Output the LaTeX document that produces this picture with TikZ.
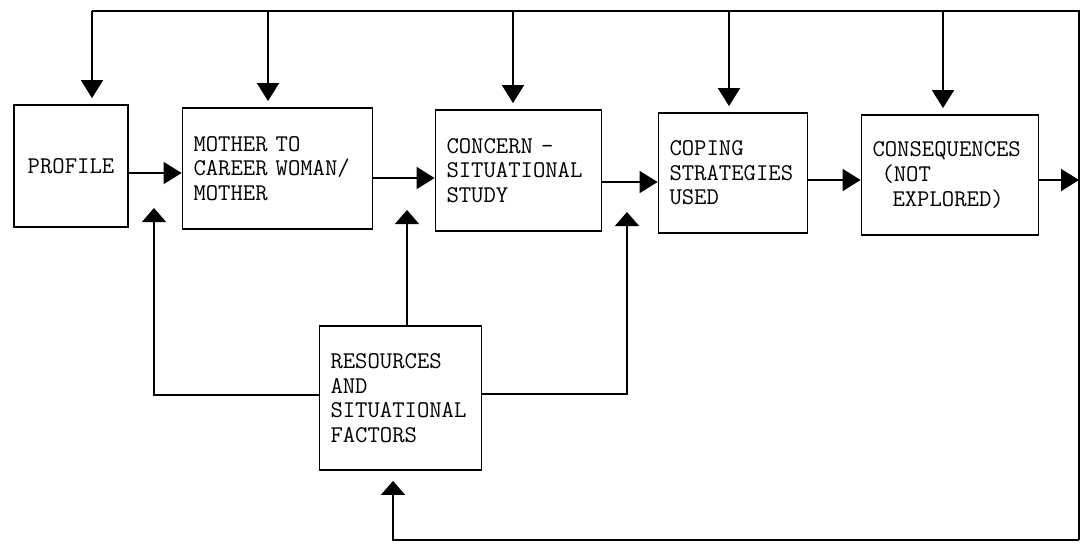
\documentclass[tikz,border=0pt]{standalone}
\usetikzlibrary{arrows.meta}

\tikzset{
    blk/.style={draw, line width=0.9pt, align=left, inner xsep=5.5pt,
        font=\ttfamily\fontsize{12pt}{12.3pt}\selectfont},
    arr/.style={line width=0.8pt, -{Triangle[width=11pt,length=9pt]}},
    uparr/.style={line width=0.8pt, -{Triangle[width=12pt,length=7pt]}}
}

\begin{document}
\begin{tikzpicture}[x=0.5pt, y=-0.5pt]
        \useasboundingbox (0,0) rectangle (1080,543);

        % Draw boxes
        \node[blk, align=center, minimum width=57pt, minimum height=61pt] (profile) at (71,166) {PROFILE};
        \node[blk, text width=84pt, minimum height=60.5pt] (mother) at (277.5,168.5) {MOTHER TO\\CAREER WOMAN/\\MOTHER};
        \node[blk, text width=72pt, minimum height=60.5pt] (concern) at (518.5,170.5) {CONCERN -\\SITUATIONAL\\STUDY};
        \node[blk, text width=63.5pt, minimum height=60pt] (coping) at (733,173) {COPING\\STRATEGIES\\USED};
        \node[blk, text width=77.5pt, minimum height=60pt] (conseq) at (950,175) {CONSEQUENCES\\\hspace*{4.5pt}(NOT\\\hspace*{10pt}EXPLORED)};
        \node[blk, text width=70pt, minimum height=72pt] (res) at (400.5,398) {RESOURCES\\AND\\SITUATIONAL\\FACTORS};

        % Feedback loop round the top, the right and the bottom
        \coordinate (tl) at (92,11);
        \coordinate (tr) at (1079,11);
        \coordinate (br) at (1079,540);
        \coordinate (bl) at (393,540);
        \draw[line width=0.8pt] (tl) -- (tr) -- (br);
        \draw[uparr, shorten >=5pt] (br) -- (bl) -- (bl |- res.south);

        \foreach \x/\n in {92/profile, 268/mother, 513/concern, 729/coping, 943/conseq}
           {
                \coordinate (t\n) at (\x,11);
                \draw[arr, shorten >=3pt] (t\n) -- (t\n |- \n.north);
           }

        % Flow from box to box
        \draw[arr] (profile.east |- 0,173) -- (mother.west |- 0,173);
        \draw[arr] (mother.east |- 0,178) -- (concern.west |- 0,178);
        \draw[arr] (concern.east |- 0,182) -- (coping.west |- 0,182);
        \draw[arr] (coping.east |- 0,180) -- (conseq.west |- 0,180);
        \draw[arr] (conseq.east |- 0,180) -- (br |- 0,180);

        % Resources feed the arrows above
        \coordinate (upl) at (154,208);
        \coordinate (upm) at (407,210);
        \coordinate (upr) at (627,212);
        \draw[uparr] (res.west |- 0,395) -| (upl);
        \draw[uparr] (upm |- res.north) -- (upm);
        \draw[uparr] (res.east |- 0,394) -| (upr);
\end{tikzpicture}
\end{document}
